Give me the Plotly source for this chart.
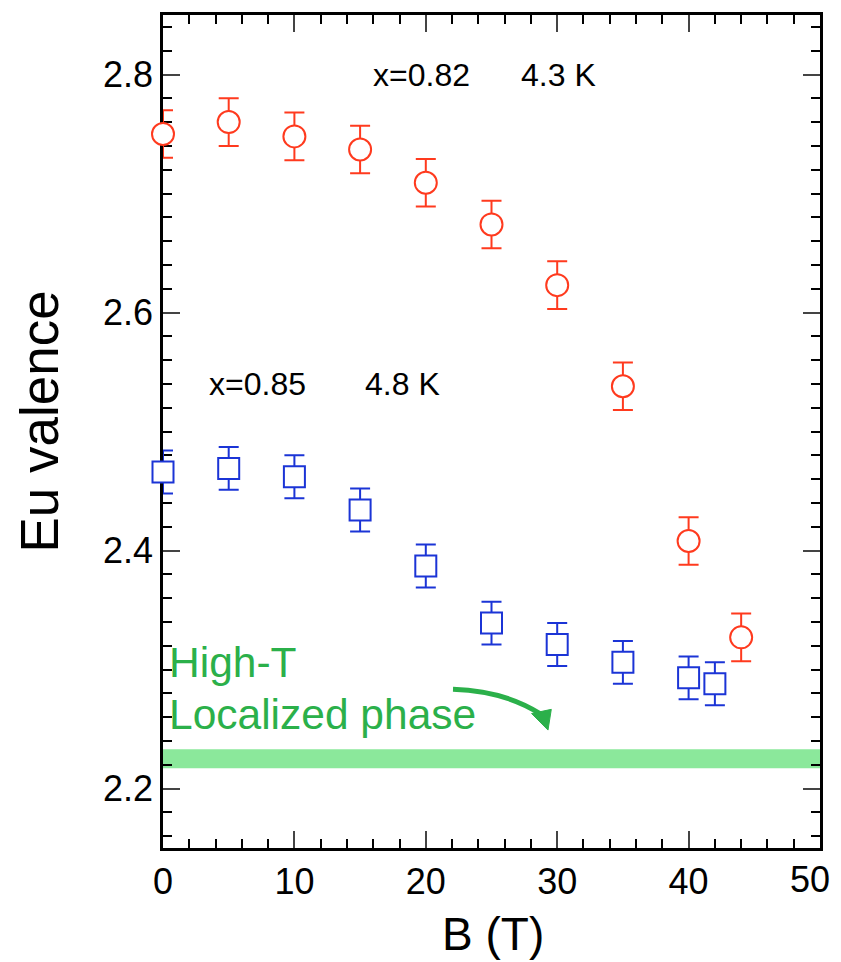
import plotly.graph_objects as go

# Data
b_082 = [0, 5, 10, 15, 20, 25, 30, 35, 40, 44]
v_082 = [2.750, 2.760, 2.748, 2.737, 2.709, 2.674, 2.623, 2.538, 2.408, 2.327]
e_082 = [0.02] * 10

b_085 = [0, 5, 10, 15, 20, 25, 30, 35, 40, 42]
v_085 = [2.466, 2.469, 2.462, 2.434, 2.387, 2.339, 2.321, 2.306, 2.293, 2.288]
e_085 = [0.018] * 10

x_ticks = [0, 10, 20, 30, 40, 50]
x_ticktext = ["0", "10", "20", "30", "40", ""]   # "50" drawn as text so it stays inside the page
y_ticks = [2.2, 2.4, 2.6, 2.8]
y_ticktext = ["2.2", "2.4", "2.6", "2.8"]

band_low, band_high = 2.217, 2.233

RED = "#FF3A1E"
BLUE = "#1B34D6"
GREEN_TXT = "#2BB04A"
GREEN_BAND = "#8BE89B"
FONT = "Liberation Sans, Arial, sans-serif"

fig = go.Figure()

fig.add_trace(go.Scatter(
    x=b_082, y=v_082, mode="markers", cliponaxis=False,
    marker=dict(symbol="circle", size=22, color="white", line=dict(color=RED, width=2)),
    error_y=dict(type="data", array=e_082, color=RED, thickness=2, width=10),
    showlegend=False,
))
fig.add_trace(go.Scatter(
    x=b_085, y=v_085, mode="markers", cliponaxis=False,
    marker=dict(symbol="square", size=21, color="white", line=dict(color=BLUE, width=2)),
    error_y=dict(type="data", array=e_085, color=BLUE, thickness=2, width=10),
    showlegend=False,
))

# green band
fig.add_shape(type="rect", xref="paper", yref="y", x0=0, x1=1, y0=band_low, y1=band_high,
              fillcolor=GREEN_BAND, line=dict(width=0), layer="below")

# curved arrow
fig.add_shape(type="path", xref="x", yref="y",
              path="M 22.07 2.2834 Q 26.0 2.2820 28.75 2.2625",
              line=dict(color=GREEN_TXT, width=5))
fig.add_shape(type="path", xref="x", yref="y",
              path="M 29.30 2.2491 L 28.05 2.2630 L 29.55 2.2665 Z",
              fillcolor=GREEN_TXT, line=dict(color=GREEN_TXT, width=1))

# page is offset by the body margin of 8 px
OFF = 8
W, H = 841 - OFF, 962 - OFF
L, R, T = 163 - OFF, 21, 12 - OFF
B = H - T - 836
pw, ph = W - L - R, H - T - B

ann = []
def txt(xi, yi, s, size, color="black", xanchor="center", angle=0):
    # xi, yi in image pixels
    fx = xi - OFF
    fy = yi - OFF
    ann.append(dict(x=(fx - L) / pw, y=(H - fy - B) / ph, xref="paper", yref="paper",
                    text=s, showarrow=False,
                    font=dict(family=FONT, size=size, color=color),
                    xanchor=xanchor, yanchor="middle", textangle=angle))

txt(421, 72, "x=0.82", 32)
txt(558, 72, "4.3 K", 32)
txt(257, 382, "x=0.85", 32)
txt(402, 382, "4.8 K", 32)
txt(167, 662, "High-T", 42.5, color=GREEN_TXT, xanchor="left")
txt(167, 714, "Localized phase", 42.5, color=GREEN_TXT, xanchor="left")
txt(493, 934, "B (T)", 46)
txt(40, 420, "Eu valence", 53, angle=-90)
txt(832, 880, "50", 36, xanchor="right")
fig.update_layout(annotations=ann)

fig.update_layout(
    width=W, height=H,
    margin=dict(l=L, r=R, t=T, b=B, pad=0),
    plot_bgcolor="white", paper_bgcolor="white",
    font=dict(family=FONT, size=36, color="black"),
)
fig.update_xaxes(
    range=[0, 50], tickvals=x_ticks, ticktext=x_ticktext, ticks="inside", ticklen=17, tickwidth=2,
    showline=True, linecolor="black", linewidth=2.5, mirror="ticks", showgrid=False, zeroline=False,
    tickfont=dict(size=36), ticklabelstandoff=0, layer="below traces",
    minor=dict(dtick=2, ticks="inside", ticklen=9, tickwidth=1.5, tickcolor="black", showgrid=False),
)
fig.update_yaxes(
    range=[2.15, 2.85], tickvals=y_ticks, ticktext=y_ticktext,
    ticks="inside", ticklen=17, tickwidth=2,
    showline=True, linecolor="black", linewidth=2.5, mirror="ticks", showgrid=False, zeroline=False,
    tickfont=dict(size=36), ticklabelstandoff=0, layer="below traces",
    minor=dict(tick0=2.2, dtick=0.02, ticks="inside", ticklen=9, tickwidth=1.5, tickcolor="black", showgrid=False),
)

fig.write_html("out.html")
